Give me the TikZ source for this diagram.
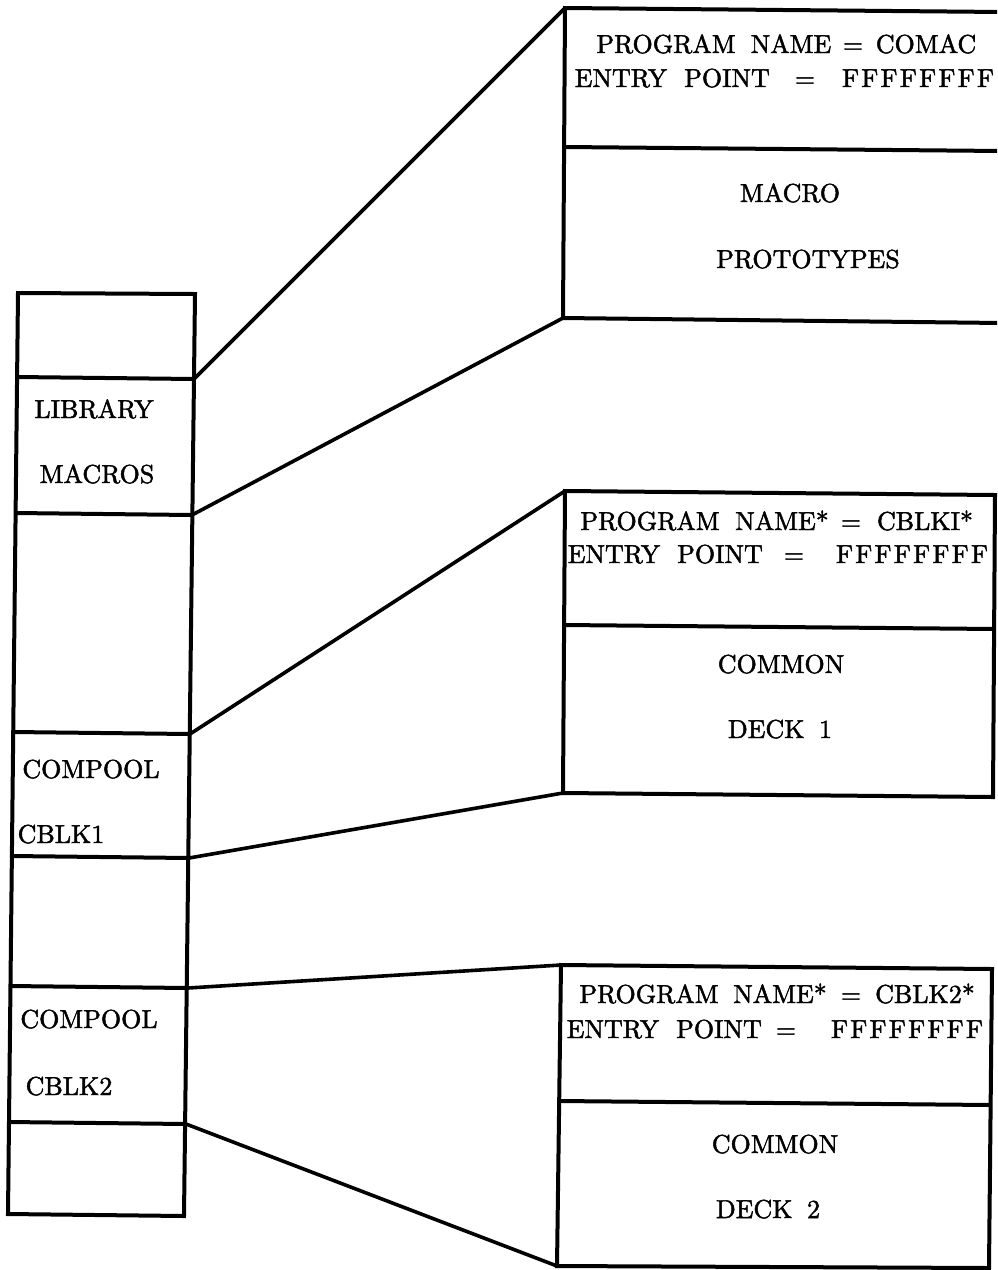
\documentclass[tikz,border=0pt]{standalone}
\usepackage{fontspec}
\setmainfont{lmroman10-regular.otf}[FakeBold=1.8]
\newcommand{\ffs}{F\kern2.3pt F\kern2.3pt F\kern2.3pt F\kern2.3pt F\kern2.3pt F\kern2.3pt F\kern2.3pt F}
\begin{document}
\begin{tikzpicture}[x=1pt,y=-1pt,line join=miter,
  edge/.style={line width=4pt},
  link/.style={line width=3.6pt},
  lbl/.style={font=\fontsize{26}{31}\selectfont,inner sep=0pt,anchor=base}]
\useasboundingbox (0,0) rectangle (997,1270);
\clip (0,0) rectangle (997,1270);
% left column corners
\coordinate (cTL) at (18,293);   \coordinate (cTR) at (195,294);
\coordinate (d1L) at (17,377);   \coordinate (d1R) at (194,379);
\coordinate (d2L) at (16,513);   \coordinate (d2R) at (192,515);
\coordinate (d3L) at (13,732);   \coordinate (d3R) at (190,734);
\coordinate (d4L) at (12,856);   \coordinate (d4R) at (189,858);
\coordinate (d5L) at (10,986);   \coordinate (d5R) at (188,988);
\coordinate (d6L) at (9,1122);   \coordinate (d6R) at (186,1124);
\coordinate (cBL) at (8,1214);   \coordinate (cBR) at (184,1216);
\draw[edge] (cTL) -- (cTR) -- (cBR) -- (cBL) -- cycle;
\foreach \i in {1,...,6} {\draw[edge] (d\i L) -- (d\i R);}
% box 1
\coordinate (aTL) at (565,8);    \coordinate (aTR) at (1002,12);
\coordinate (aML) at (565,147);  \coordinate (aMR) at (1002,151);
\coordinate (aBL) at (563,318);  \coordinate (aBR) at (1002,323);
\draw[edge] (aTR) -- (aTL) -- (aBL) -- (aBR);
\draw[edge] (aML) -- (aMR);
% box 2
\coordinate (bTL) at (565,491);  \coordinate (bTR) at (995,495);
\coordinate (bML) at (564,625);  \coordinate (bMR) at (995,629);
\coordinate (bBL) at (563,793);  \coordinate (bBR) at (993,797);
\draw[edge] (bTL) -- (bTR) -- (bBR) -- (bBL) -- cycle;
\draw[edge] (bML) -- (bMR);
% box 3
\coordinate (eTL) at (561,965);  \coordinate (eTR) at (992,969);
\coordinate (eML) at (559,1101); \coordinate (eMR) at (991,1105);
\coordinate (eBL) at (557,1266); \coordinate (eBR) at (989,1268);
\draw[edge] (eTL) -- (eTR) -- (eBR) -- (eBL) -- cycle;
\draw[edge] (eML) -- (eMR);
% connectors
\draw[link] (d1R) -- (aTL);
\draw[link] (d2R) -- (aBL);
\draw[link] (d3R) -- (bTL);
\draw[link] (d4R) -- (bBL);
\draw[link] (d5R) -- (eTL);
\draw[link] (d6R) -- (eBL);
% column labels
\node[lbl] (lib) at (94,418) {LIBRARY};
\node[lbl] (mac) at (97,483) {MACROS};
\node[lbl] (cp1) at (91,778) {COMPOOL};
\node[lbl] (cb1) at (61,843) {CBLK1};
\node[lbl] (cp2) at (89,1028) {COMPOOL};
\node[lbl] (cb2) at (69,1095) {CBLK2};
% box 1 labels
\node[lbl] (a1) at (666,53) {PROGRAM};
\node[lbl] (a2) at (791,53) {NAME};
\node[lbl] (a3) at (853,53) {=};
\node[lbl] (a4) at (926,53) {COMAC};
\node[lbl] (a5) at (621,87) {ENTRY};
\node[lbl] (a6) at (727,87) {POINT};
\node[lbl] (a7) at (805,87) {=};
\node[lbl] (a8) at (918,87) {\ffs};
\node[lbl] (a9) at (790,202) {MACRO};
\node[lbl] (a10) at (808,268) {PROTOTYPES};
% box 2 labels
\node[lbl] (b1) at (650,530) {PROGRAM};
\node[lbl] (b2) at (782,530) {NAME*};
\node[lbl] (b3) at (851,530) {=};
\node[lbl] (b4) at (925,530) {CBLKI*};
\node[lbl] (b5) at (614,563) {ENTRY};
\node[lbl] (b6) at (720,563) {POINT};
\node[lbl] (b7) at (794,563) {=};
\node[lbl] (b8) at (912,563) {\ffs};
\node[lbl] (b9) at (781,673) {COMMON};
\node[lbl] (b10) at (780,738) {DECK\hspace{6pt} 1};
% box 3 labels
\node[lbl] (e1) at (649,1003) {PROGRAM};
\node[lbl] (e2) at (780,1003) {NAME*};
\node[lbl] (e3) at (851,1003) {=};
\node[lbl] (e4) at (925,1003) {CBLK2*};
\node[lbl] (e5) at (613,1038) {ENTRY};
\node[lbl] (e6) at (719,1038) {POINT};
\node[lbl] (e7) at (786,1038) {=};
\node[lbl] (e8) at (907,1038) {\ffs};
\node[lbl] (e9) at (775,1153) {COMMON};
\node[lbl] (e10) at (768,1218) {DECK\hspace{6pt} 2};
\end{tikzpicture}
\end{document}
